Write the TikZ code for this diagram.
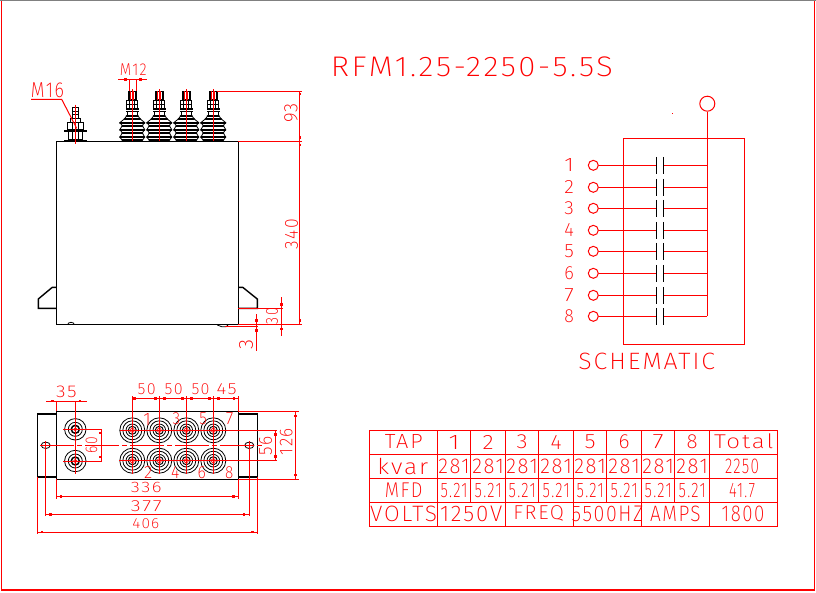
\documentclass[tikz,border=0pt]{standalone}
\usepackage{graphicx}
\usepackage{fontspec}
\setsansfont[LetterSpace=8]{Fira Sans ExtraLight}
\newcommand{\fitt}[3]{\resizebox*{#1pt}{#2pt}{\sffamily #3}}
\newcommand{\dimsq}[2]{\fill[red] (#1,#2) ++(-1.4,-1.4) rectangle ++(2.8,2.8);}
% terminal, side view
\newcommand{\sidestud}[1]{
  \begin{scope}[shift={(#1,0)}]
    \draw[blk] (-3.5,91.3) rectangle (3.5,100);
    \draw[blk,thin] (-5.5,100) rectangle (5.5,108.3);
    \draw[blk,thin] (-5.5,104) -- (5.5,104);
    \draw[blk,thin] (-2.5,100) -- (-2.5,108.3) (2.5,100) -- (2.5,108.3);
    \draw[blk,line width=1.4pt] (-6.2,109) -- (6.2,109) (-6.2,111.6) -- (6.2,111.6);
    \draw[blk] (-5,111.6) -- (-5,115.5) (5,111.6) -- (5,115.5);
    \foreach \y/\w in {115.8/5.7,119/7.8,122.6/12.2,125.6/10,129.6/12.2,132.8/10,137.2/12.2,140.2/10}{
      \draw[blk,line width=1.9pt,line cap=round] (-\w,\y) -- (\w,\y);
    }
    \draw[blk,thin] (-5.7,116) -- (-8,119) -- (-12.4,122.6) -- (-10,125.6) -- (-12.4,129.6) -- (-10,132.8) -- (-12.4,137.2) -- (-10,140.2);
    \draw[blk,thin] (5.7,116) -- (8,119) -- (12.4,122.6) -- (10,125.6) -- (12.4,129.6) -- (10,132.8) -- (12.4,137.2) -- (10,140.2);
    \draw[dimr] (-1.6,91.3) -- (-1.6,100) (1.6,91.3) -- (1.6,100);
    \draw[dimr] (0,89) -- (0,141);
  \end{scope}}
% terminal, seen from above
\newcommand{\planstud}[2]{
  \begin{scope}[shift={(#1,#2)}]
    \draw[blk,line width=0.8pt] (0,0) circle[radius=12.5pt] (0,0) circle[radius=9.5pt] (0,0) circle[radius=6.3pt];
    \draw[blk,line width=1pt] (0,0) circle[radius=4pt];
    \draw[dimr,line width=0.7pt] (0,0) circle[radius=2pt];
  \end{scope}}
\newcommand{\planbolt}[2]{
  \begin{scope}[shift={(#1,#2)}]
    \draw[blk,line width=0.8pt] (0,0) circle[radius=10.7pt] (0,0) circle[radius=7pt];
    \draw[blk,line width=1.5pt] (0,0) circle[radius=4pt];
    \draw[dimr,line width=0.7pt] (0,0) circle[radius=1.6pt];
  \end{scope}}
\tikzset{
  blk/.style={black,line width=1.4pt},
  thin/.style={line width=0.8pt},
  dimr/.style={red,line width=1pt},
  lbl/.style={red,inner sep=0pt,outer sep=0pt},
  term/.style={circle,draw=red,line width=1pt,minimum size=10pt,inner sep=0pt},
}
\begin{document}
\begin{tikzpicture}[x=1pt,y=-1pt]
  \useasboundingbox (0,0) rectangle (816,592);
  % sheet frame
  \draw[red,line width=1.6pt] (1.5,0.8) -- (1.5,590) -- (814.5,590) -- (814.5,0.8);
  \draw[gray,line width=1.6pt] (0,0.6) -- (816,0.6);
  \node[lbl] (title) at (472,67) {\fitt{282}{20}{RFM1.25-2250-5.5S}};

  % side view
  \draw[blk] (56.3,141.3) rectangle (238.3,324.3);
  \draw[blk] (56.3,287.3) -- (52.3,287.3) -- (38.3,299) -- (38.3,308.3) -- (56.3,308.3);
  \draw[blk] (238.3,287.3) -- (242.7,287.3) -- (257.3,299) -- (257.3,308.3) -- (238.3,308.3);
  \draw[blk,thin] (67.7,324.6) arc[start angle=180,end angle=360,x radius=3.3pt,y radius=-2.3pt];
  \draw[blk,thin] (217.3,325) -- (222,326.8) -- (226,326.8) -- (228,325);
  \sidestud{132.3}
  \sidestud{159.3}
  \sidestud{186.3}
  \sidestud{213.3}
  % M16 bolt
  \draw[blk] (72.3,107.5) rectangle (78.3,118.3);
  \draw[blk,thin] (72.3,111) -- (78.3,111) (72.3,114.6) -- (78.3,114.6);
  \draw[blk,thin] (70.3,118.3) rectangle (80.3,122);
  \draw[blk,thin] (67.6,122) rectangle (83,129);
  \draw[blk,thin] (72,122) -- (72,129) (78.6,122) -- (78.6,129);
  \draw[blk,line width=2pt] (64,130.5) -- (86.6,130.5);
  \draw[blk,thin] (68,131.7) rectangle (82.6,139) (72,131.7) -- (72,139) (78.6,131.7) -- (78.6,139);
  \draw[blk,line width=1.2pt] (64,140.4) -- (86.6,140.4);
  \draw[dimr] (75.3,104.5) -- (75.3,144);
  \node[lbl] (m16) at (47.5,89.8) {\fitt{33}{15}{M16}};
  \draw[dimr] (31,99.3) -- (61.7,99.3) -- (76.7,128.3);
  \node[lbl] (m12) at (133.3,70) {\fitt{26.7}{11.7}{M12}};
  \draw[dimr] (118,79.3) -- (147.3,79.3) (129,79.3) -- (129,91.3) (136.7,79.3) -- (136.7,91.3);
  \dimsq{125.5}{79.3} \dimsq{140.3}{79.3}

  % side view dimensions
  \draw[dimr] (216.8,91.3) -- (302,91.3) (238.3,141.3) -- (302,141.3) (238.3,324.3) -- (302,324.3);
  \draw[dimr] (299.3,91.3) -- (299.3,324.3);
  \dimsq{300}{94} \dimsq{300}{137.5} \dimsq{300}{145} \dimsq{300}{320.5}
  \node[lbl,rotate=90] (d93) at (291,113) {\fitt{19.7}{13.4}{93}};
  \node[lbl,rotate=90] (d340) at (291.5,234) {\fitt{30}{13}{340}};
  \draw[dimr] (238.3,308.3) -- (283,308.3) (281.7,297) -- (281.7,335.7);
  \dimsq{281.7}{304.5} \dimsq{281.7}{329}
  \node[lbl,rotate=90] (d30) at (272,316) {\fitt{16}{12}{30}};
  \draw[dimr] (225,326.3) -- (257.5,326.3) (256.3,314) -- (256.3,350.7);
  \dimsq{256.3}{320.5} \dimsq{256.3}{330.5}
  \node[lbl,rotate=90] (d3) at (246,344) {\fitt{10}{14}{3}};

  % schematic
  \draw[dimr] (623.3,138.3) rectangle (744.3,344.3);
  \node[term,minimum size=15pt] (com) at (707.3,103.7) {};
  \coordinate (busend) at (707.3,316.3);
  \draw[dimr] (com) -- (busend);
  \fill[red] (672.3,113) rectangle (673.3,114);
  \foreach \n/\y in {1/165.3,2/187.3,3/208.3,4/230.3,5/251.3,6/273.3,7/295.3,8/316.3}{
    \node[term] (t\n) at (593.3,\y) {};
    \node[lbl] (n\n) at (569,\y) {\fitt{9.5}{13}{\n}};
    \coordinate (pl\n) at (656.3,\y);
    \coordinate (pr\n) at (663.3,\y);
    \coordinate (bus\n) at (707.3,\y);
    \draw[dimr] (t\n) -- (pl\n) (pr\n) -- (bus\n);
    \draw[blk,line width=1pt] (656.3,\y-8.5) -- (656.3,\y+8.5) (663.3,\y-8.5) -- (663.3,\y+8.5);
  }
  \node[lbl] (schem) at (646.7,361.7) {\fitt{136.7}{16.7}{SCHEMATIC}};

  % top view
  \draw[blk] (56.3,411.3) rectangle (238.3,479.3);
  \draw[blk,thin] (37.3,413.3) -- (37.3,477) (257.3,413.3) -- (257.3,477);
  \draw[blk,line width=2.2pt] (37.3,413.6) -- (56.3,413.6) (37.3,476.8) -- (56.3,476.8);
  \draw[blk,line width=2.2pt] (238.3,413.6) -- (257.3,413.6) (238.3,476.8) -- (257.3,476.8);
  \draw[blk,thin] (45.7,445.3) ellipse[x radius=4.5pt,y radius=3.2pt];
  \draw[blk,thin] (249.3,445.3) ellipse[x radius=4.5pt,y radius=3.2pt];
  \planbolt{75.3}{429.3}
  \planbolt{75.3}{461}
  \foreach \x in {132.3,159.3,186.3,213.3}{
    \planstud{\x}{430.3}
    \planstud{\x}{460.7}
    \draw[dimr] (\x,396) -- (\x,474);
  }
  \draw[dimr,dash pattern=on 34pt off 3pt on 5pt off 3pt] (40,445.3) -- (262,445.3);
  \draw[dimr] (75.3,401) -- (75.3,474) (45.7,441) -- (45.7,450) (249.3,441) -- (249.3,450);
  \draw[dimr] (120,430.3) -- (277,430.3) (119,460.7) -- (277,460.7);
  \draw[dimr] (63.3,429.3) -- (102,429.3) (63.3,461) -- (102,461) (101,429.3) -- (101,461);
  \dimsq{100.5}{433} \dimsq{100.5}{457}
  \node[lbl,rotate=90] (d60) at (91.5,445.3) {\fitt{16}{11.6}{60}};
  \draw[dimr] (46,401) -- (86.7,401) (56.3,401) -- (56.3,411.3);
  \dimsq{52.7}{401} \dimsq{80}{401}
  \node[lbl] (d35) at (66.4,391.8) {\fitt{20.7}{11.7}{35}};
  \draw[dimr] (132.3,398.3) -- (238.3,398.3) (238.3,396) -- (238.3,411.3);
  \foreach \x in {134.3,155.7,164.3,182.7,191.3,209.3,218.3,234}{
    \dimsq{\x}{398.3}
  }
  \node[lbl] (d50a) at (146.7,389.5) {\fitt{18}{11}{50}};
  \node[lbl] (d50b) at (173.7,389.5) {\fitt{18}{11}{50}};
  \node[lbl] (d50c) at (200.5,389.5) {\fitt{18}{11}{50}};
  \node[lbl] (d45) at (226.7,389.5) {\fitt{20}{11}{45}};
  \foreach \n/\x in {1/147.2,3/176.3,5/203,7/229.5}
    \node[lbl] (pu\n) at (\x,419) {\fitt{7.5}{12}{\n}};
  \foreach \n/\x in {2/148.2,4/175.2,6/201.8,8/229.2}
    \node[lbl] (pu\n) at (\x,472.5) {\fitt{8.2}{12}{\n}};
  \draw[dimr] (275.3,430.3) -- (275.3,460.7);
  \dimsq{275.3}{434.5} \dimsq{275.3}{456.5}
  \node[lbl,rotate=90] (d56) at (265.5,445.5) {\fitt{19}{13}{56}};
  \draw[dimr] (238.3,411.3) -- (299,411.3) (238.3,479.3) -- (299,479.3) (295.7,411.3) -- (295.7,479.3);
  \dimsq{295.7}{416} \dimsq{295.7}{475}
  \node[lbl,rotate=90] (d126) at (286.3,441.5) {\fitt{27}{12.7}{126}};
  \draw[dimr] (56.3,479.3) -- (56.3,499) (238.3,479.3) -- (238.3,499) (56.3,496.7) -- (238.3,496.7);
  \dimsq{61}{496.7} \dimsq{233.3}{496.7}
  \node[lbl] (d336) at (146.3,487.8) {\fitt{30.7}{10.4}{336}};
  \draw[dimr] (45.7,449) -- (45.7,516) (249.3,449) -- (249.3,516) (45.7,514.3) -- (249.3,514.3);
  \dimsq{50.7}{514.3} \dimsq{244}{514.3}
  \node[lbl] (d377) at (146.3,506.2) {\fitt{30.7}{11}{377}};
  \draw[dimr] (37.3,477) -- (37.3,534) (257.3,477) -- (257.3,534) (37.3,532) -- (257.3,532);
  \dimsq{42}{532} \dimsq{252.7}{532}
  \node[lbl] (d406) at (145.8,523.3) {\fitt{27}{10}{406}};

  % table
  \draw[dimr] (369.3,430.3) rectangle (777.7,526.3);
  \draw[dimr] (369.3,454.3) -- (777.7,454.3) (369.3,478.7) -- (777.7,478.7) (369.3,502.3) -- (777.7,502.3);
  \foreach \x in {437.3,505.7,573.7,641.7,709.7}
    \draw[dimr] (\x,430.3) -- (\x,526.3);
  \foreach \x in {470.7,538.7,606.7,674.7}
    \draw[dimr] (\x,430.3) -- (\x,502.3);
  \node[lbl] (tap) at (403.8,441.3) {\fitt{37.7}{14}{TAP}};
  \node[lbl] (kvar) at (402.8,466.5) {\fitt{51}{16.5}{kvar}};
  \node[lbl] (mfd) at (403.8,490) {\fitt{37.7}{14.6}{MFD}};
  \node[lbl] (volts) at (403.6,513.8) {\fitt{67}{15.7}{VOLTS}};
  \foreach \n/\x in {1/454,2/488.2,3/522.2,4/556.2,5/590.2,6/624.2,7/658.2,8/692.2}{
    \node[lbl] (h\n) at (\x,442) {\fitt{11}{14}{\n}};
    \node[lbl] (kv\n) at (\x,466.5) {\fitt{31.5}{14.7}{281}};
    \node[lbl] (uf\n) at (\x,490.5) {\fitt{27}{14.4}{5.21}};
  }
  \node[lbl] (total) at (743.7,441.5) {\fitt{59.3}{15}{Total}};
  \node[lbl] (qtot) at (742,466.5) {\fitt{34}{14.7}{2250}};
  \node[lbl] (ctot) at (742,490.5) {\fitt{26}{14.4}{41.7}};
  \node[lbl] (volt) at (471.2,513.8) {\fitt{62.3}{15.7}{1250V}};
  \node[lbl] (freq) at (538.7,513.8) {\fitt{50.7}{15.7}{FREQ}};
  \node[lbl] (hz) at (607.5,513.8) {\fitt{71.6}{15.7}{5500HZ}};
  \node[lbl] (amps) at (675.4,513.8) {\fitt{50.7}{15.7}{AMPS}};
  \node[lbl] (atot) at (743,513.8) {\fitt{42.6}{15.7}{1800}};
\end{tikzpicture}
\end{document}
